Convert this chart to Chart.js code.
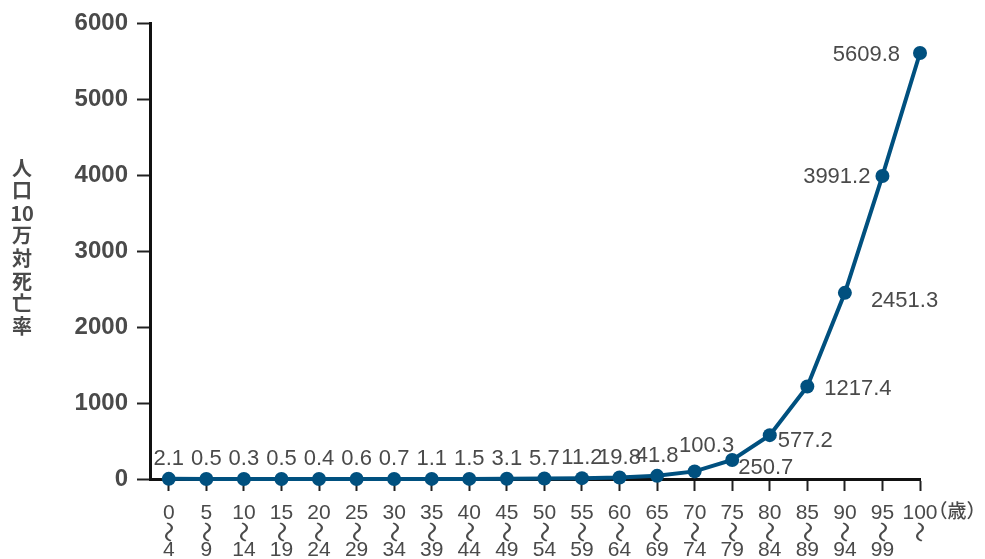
<!DOCTYPE html>
<html>
<head>
<meta charset="utf-8">
<script src="https://cdn.jsdelivr.net/npm/chart.js@4"></script>
<style>
  html, body { margin: 0; padding: 0; background: #ffffff; }
  canvas { display: block; }
</style>
</head>
<body>
<canvas id="chart" width="985" height="559"></canvas>
<script>
// Age groups (start / end of each 5-year band) and death rate per 100,000 people
const ageFrom = ['0', '5', '10', '15', '20', '25', '30', '35', '40', '45', '50',
                 '55', '60', '65', '70', '75', '80', '85', '90', '95', '100'];
const ageTo = ['4', '9', '14', '19', '24', '29', '34', '39', '44', '49', '54',
               '59', '64', '69', '74', '79', '84', '89', '94', '99', ''];
const deathRate = [2.1, 0.5, 0.3, 0.5, 0.4, 0.6, 0.7, 1.1, 1.5, 3.1, 5.7,
                   11.2, 19.8, 41.8, 100.3, 250.7, 577.2, 1217.4, 2451.3, 3991.2, 5609.8];
const yTickValues = [0, 1000, 2000, 3000, 4000, 5000, 6000];
const yTitleParts = ['人', '口', '10', '万', '対', '死', '亡', '率'];
const rangeMark = '〜';
const ageUnit = '（歳）';

// Where each value label sits relative to its point: [dx, dy, textAlign]
const labelPlacement = deathRate.map((v, i) => {
  if (i <= 13) return [0, -20, 'center'];
  return ({
    14: [12, -25, 'center'],
    15: [6, 8, 'left'],
    16: [8, 6, 'left'],
    17: [17, 2, 'left'],
    18: [26, 8, 'left'],
    19: [-12, 1, 'right'],
    20: [-20, 2, 'right']
  })[i];
});

const TEXT = '#4a4a4a';
const LINE = '#00507f';
const NUM_FONT = '"Liberation Sans", Arial, sans-serif';
const CJK_FONT = '"Noto Sans CJK JP", "Noto Sans", sans-serif';

const valueLabels = {
  id: 'valueLabels',
  afterDatasetsDraw(chart) {
    const ctx = chart.ctx;
    const meta = chart.getDatasetMeta(0);
    ctx.save();
    ctx.font = '22px ' + NUM_FONT;
    ctx.fillStyle = TEXT;
    ctx.textBaseline = 'middle';
    meta.data.forEach((pt, i) => {
      const [dx, dy, align] = labelPlacement[i];
      ctx.textAlign = align;
      ctx.fillText(String(deathRate[i]), pt.x + dx, pt.y + dy);
    });
    ctx.restore();
  }
};

const axisText = {
  id: 'axisText',
  afterDraw(chart) {
    const ctx = chart.ctx;
    const xs = chart.scales.x;
    ctx.save();
    ctx.fillStyle = TEXT;
    ctx.textBaseline = 'middle';
    ctx.textAlign = 'center';

    // x tick labels: start age, wave mark (turned upright), end age
    ageFrom.forEach((a, i) => {
      const x = xs.getPixelForValue(i);
      ctx.font = '21px ' + NUM_FONT;
      ctx.fillText(a, x, 513);
      if (ageTo[i]) ctx.fillText(ageTo[i], x, 550);
      const w = ctx.measureText(a).width;
      ctx.save();
      ctx.translate(x, 532);
      ctx.rotate(Math.PI / 2);
      ctx.scale(1.05, 1.4);
      ctx.font = '20px ' + CJK_FONT;
      ctx.fillText(rangeMark, 0, 0);
      ctx.restore();
      if (i === ageFrom.length - 1) {
        ctx.font = '500 19px ' + CJK_FONT;
        ctx.textAlign = 'left';
        ctx.fillText(ageUnit, x + w / 2 - 9, 511);
        ctx.textAlign = 'center';
      }
    });

    // y axis title, one character per row
    ctx.font = 'bold 20px ' + CJK_FONT;
    yTitleParts.forEach((c, k) => {
      ctx.fillText(c, 22, 168 + k * 22.6);
    });
    ctx.restore();
  }
};

new Chart(document.getElementById('chart'), {
  type: 'line',
  data: {
    datasets: [{
      data: deathRate.map((v, i) => ({ x: i, y: v })),
      borderColor: LINE,
      backgroundColor: LINE,
      borderWidth: 4,
      pointRadius: 7,
      pointBackgroundColor: LINE,
      pointBorderWidth: 0,
      tension: 0,
      clip: false
    }]
  },
  options: {
    responsive: false,
    animation: false,
    devicePixelRatio: 1,
    layout: { padding: { top: 23, right: 65, left: 0, bottom: 0 } },
    plugins: { legend: { display: false }, tooltip: { enabled: false } },
    scales: {
      x: {
        type: 'linear',
        min: -0.5,
        max: ageFrom.length - 1,
        afterBuildTicks: s => { s.ticks = ageFrom.map((_, i) => ({ value: i })); },
        afterFit: s => { s.height = 80; },
        ticks: { display: false },
        grid: { drawOnChartArea: false, drawTicks: true, tickLength: 12, tickColor: '#222', tickWidth: 2 },
        border: { display: true, color: '#111', width: 3 }
      },
      y: {
        min: yTickValues[0],
        max: yTickValues[yTickValues.length - 1],
        afterBuildTicks: s => { s.ticks = yTickValues.map(v => ({ value: v })); },
        afterFit: s => { s.width = 150; },
        ticks: {
          color: TEXT,
          padding: 9,
          callback: v => String(v),
          font: { family: NUM_FONT, size: 24, weight: 'bold' }
        },
        grid: { drawOnChartArea: false, drawTicks: true, tickLength: 13, tickColor: '#222', tickWidth: 2 },
        border: { display: true, color: '#111', width: 3 }
      }
    }
  },
  plugins: [valueLabels, axisText]
});
</script>
</body>
</html>
